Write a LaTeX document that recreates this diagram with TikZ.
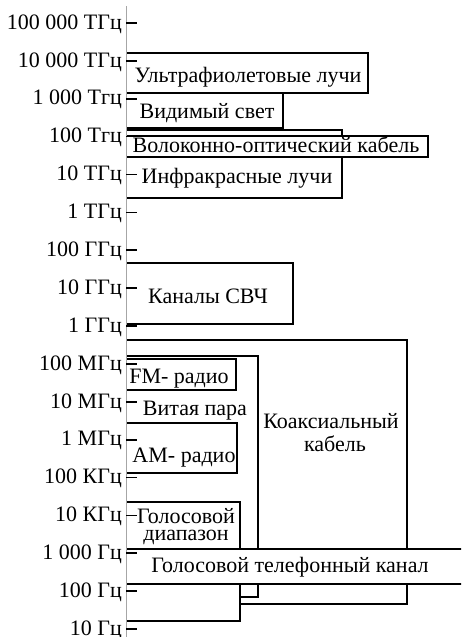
\documentclass[tikz,border=0pt]{standalone}
\usepackage{fontspec}
\setmainfont{Liberation Serif}
\begin{document}
\begin{tikzpicture}[x=1pt,y=-1pt,
  lab/.style={font=\fontsize{22}{24}\selectfont, inner sep=0pt},
  ticklab/.style={lab, anchor=base east},
  txt/.style={lab, anchor=base},
  area/.style={inner sep=0pt, outer sep=0pt, anchor=north west},
  whitearea/.style={area, fill=white},
  edge/.style={line width=1.7pt, line join=miter},
  tickmark/.style={line width=1.7pt},
  axisline/.style={draw=black!35, line width=1pt}]
\clip (0,0) rectangle (461,637);
\fill[white] (0,0) rectangle (461,637);

% Infrared
\node[area, minimum width=216pt, minimum height=68pt] (ir) at (126,130) {};
\draw[edge] (ir.north west) -- (ir.north east) -- (ir.south east) -- (ir.south west);
\node[txt] (irt) at (237,183) {Инфракрасные лучи};
% Fiber
\node[whitearea, minimum width=302pt, minimum height=21pt] (fib) at (126,136) {};
\draw[edge] (fib.north west) -- (fib.north east) -- (fib.south east) -- (fib.south west);
\node[txt] (fibt) at (276,152) {Волоконно-оптический кабель};
% Visible
\node[area, minimum width=157pt, minimum height=35pt] (vis) at (126,93) {};
\draw[edge] (vis.north west) -- (vis.north east) -- (vis.south east) -- (vis.south west);
\node[txt] (vist) at (207,118) {Видимый свет};
% UV
\node[area, minimum width=242pt, minimum height=40pt] (uv) at (126,53) {};
\draw[edge] (uv.north west) -- (uv.north east) -- (uv.south east) -- (uv.south west);
\node[txt] (uvt) at (248,82) {Ультрафиолетовые лучи};
% Microwave
\node[area, minimum width=167pt, minimum height=61pt] (svch) at (126,263) {};
\draw[edge] (svch.north west) -- (svch.north east) -- (svch.south east) -- (svch.south west);
\node[txt] (svcht) at (208,303) {Каналы СВЧ};
% Coax
\node[area, minimum width=281pt, minimum height=264pt] (coax) at (126,340) {};
\coordinate (coaxend) at (240,604);
\draw[edge] (coax.north west) -- (coax.north east) -- (coax.south east) -- (coaxend);
\node[txt] (coaxt1) at (331,428) {Коаксиальный};
\node[txt] (coaxt2) at (335,451) {кабель};
% Twisted pair
\node[area, minimum width=132pt, minimum height=241pt] (tw) at (126,356) {};
\coordinate (twend) at (240,597);
\draw[edge] (tw.north west) -- (tw.north east) -- (tw.south east) -- (twend);
\node[txt] (twt) at (195,415) {Витая пара};
% Voice range
\node[area, minimum width=114pt, minimum height=119pt] (vr) at (126,502) {};
\draw[edge] (vr.north west) -- (vr.north east) -- (vr.south east) -- (vr.south west);
\node[lab, align=center, font=\fontsize{22}{17}\selectfont, anchor=base] (vrt) at (186,540) {Голосовой\\диапазон};
% FM
\node[whitearea, minimum width=110pt, minimum height=31pt] (fm) at (126,359) {};
\draw[edge] (fm.north west) -- (fm.north east) -- (fm.south east) -- (fm.south west);
\node[txt] (fmt) at (179,383) {FM- радио};
% AM
\node[whitearea, minimum width=111pt, minimum height=50pt] (am) at (126,423) {};
\draw[edge] (am.north west) -- (am.north east) -- (am.south east) -- (am.south west);
\node[txt] (amt) at (184,462) {АМ- радио};
% Phone channel
\node[whitearea, minimum width=345pt, minimum height=35pt] (ph) at (126,549) {};
\draw[edge] (ph.north west) -- (ph.north east) -- (ph.south east) -- (ph.south west);
\node[txt] (pht) at (290,572) {Голосовой телефонный канал};

% Axis
\coordinate (axtop) at (126,6);
\coordinate (axbot) at (126,640);
\draw[axisline] (axtop) -- (axbot);

% Ticks and labels
\foreach \t [count=\i from 0] in {100 000 ТГц,10 000 ТГц,1 000 Тгц,100 Тгц,10 ТГц,1 ТГц,100 ГГц,10 ГГц,1 ГГц,100 МГц,10 МГц,1 МГц,100 КГц,10 КГц,1 000 Гц,100 Гц,10 Гц}{
  \pgfmathsetmacro{\yy}{23+37.88*\i}
  \coordinate (ta\i) at (126,\yy);
  \coordinate (tb\i) at (137,\yy);
  \draw[tickmark] (ta\i) -- (tb\i);
  \node[ticklab] (tl\i) at (122,\yy+6.2) {\t};
}
\end{tikzpicture}
\end{document}
